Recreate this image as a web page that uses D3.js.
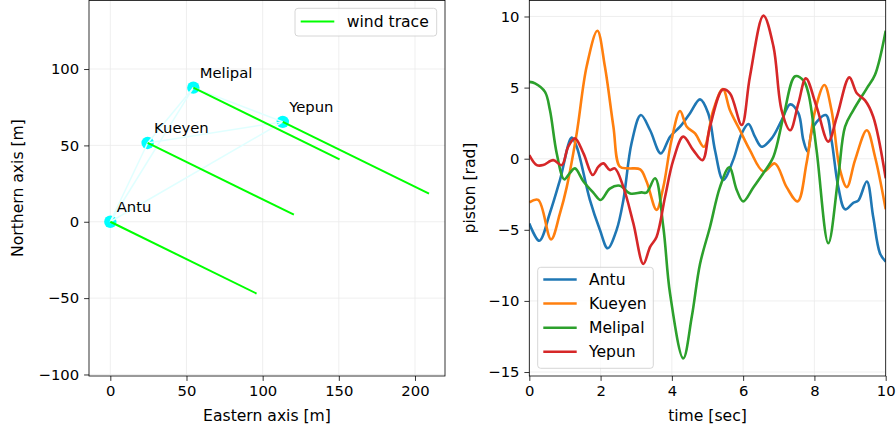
<!DOCTYPE html>
<html>
<head>
<meta charset="utf-8">
<script src="https://cdn.jsdelivr.net/npm/d3@7"></script>
<style>
  body { margin: 0; background: #fff; }
  text { font-family: "DejaVu Sans", sans-serif; fill: #000; }
</style>
</head>
<body>
<div id="chart"></div>
<script>
// telescope names and positions [m]
var telescopes = ["Antu", "Kueyen", "Melipal", "Yepun"];
var eastPos = [0, 24.5, 54.5, 113.2];
var northPos = [0, 51.6, 87.8, 65.4];
// wind trace end offset [m]
var windEast = 96;
var windNorth = -47;

var leftXTicks = [0, 50, 100, 150, 200];
var leftYTicks = [-100, -50, 0, 50, 100];
var rightXTicks = [0, 2, 4, 6, 8, 10];
var rightYTicks = [-15, -10, -5, 0, 5, 10];

// piston traces, [time sec, piston rad]
var antuPiston = [[0,-4.55],[0.28,-5.77],[0.58,-3.8],[0.86,-1.5],[1.19,1.48],[1.33,0.84],[1.7,-2.9],[1.98,-5.0],[2.2,-6.3],[2.45,-5.0],[2.64,-2.9],[2.87,1.1],[3.13,3.07],[3.39,2.0],[3.69,0.37],[3.95,1.55],[4.23,2.25],[4.51,3.2],[4.79,4.17],[5.02,3.2],[5.21,0.6],[5.44,-1.5],[5.72,-0.1],[5.96,1.78],[6.15,2.44],[6.33,1.55],[6.52,0.84],[6.8,1.43],[7.08,2.7],[7.32,3.82],[7.55,3.2],[7.69,1.3],[7.81,0.5],[7.97,2.25],[8.32,3.07],[8.48,1.3],[8.67,-2.0],[8.86,-3.56],[9.09,-3.1],[9.23,-2.95],[9.47,-1.6],[9.65,-4.1],[9.84,-6.66],[10,-7.24]];
var kueyenPiston = [[0,-3.07],[0.25,-2.9],[0.61,-5.67],[0.86,-3.85],[1.05,-2.0],[1.33,1.78],[1.61,6.5],[1.91,9.0],[2.12,6.5],[2.36,2.25],[2.54,-0.56],[2.78,-0.68],[3.11,-0.75],[3.29,-1.6],[3.57,-3.6],[3.76,-2.0],[3.99,1.3],[4.23,3.35],[4.42,2.25],[4.65,1.78],[4.9,0.84],[5.16,3.4],[5.43,4.9],[5.63,3.4],[5.91,2.0],[6.19,0.6],[6.57,-0.9],[6.89,-0.33],[7.22,-2.0],[7.53,-3.0],[7.78,-0.3],[8.02,3.4],[8.28,5.18],[8.48,3.4],[8.72,-0.8],[8.91,-2.0],[9.14,-0.1],[9.47,2.0],[9.7,0.14],[10,-3.56]];
var melipalPiston = [[0,5.4],[0.16,5.3],[0.44,4.7],[0.58,3.4],[0.77,0.37],[0.98,-1.45],[1.14,-1.0],[1.28,-0.68],[1.52,-1.6],[1.8,-2.4],[2.0,-2.9],[2.26,-2.1],[2.54,-1.9],[2.83,-2.45],[3.15,-2.37],[3.29,-2.38],[3.53,-1.38],[3.76,-4.8],[3.95,-9.5],[4.32,-14.04],[4.56,-11.1],[4.79,-7.4],[5.07,-4.8],[5.35,-2.0],[5.61,-0.6],[5.82,-2.2],[6.0,-3.0],[6.29,-2.0],[6.57,-1.0],[6.85,0.14],[7.13,2.95],[7.46,5.8],[7.69,5.5],[7.83,4.6],[8.06,0.6],[8.39,-5.95],[8.67,-1.27],[8.86,2.25],[9.09,3.4],[9.47,4.95],[9.7,5.9],[10,9.0]];
var yepunPiston = [[0,0.26],[0.21,-0.45],[0.39,-0.45],[0.67,-0.1],[0.91,-0.45],[1.09,0.84],[1.28,1.43],[1.52,0.37],[1.78,-1.15],[1.94,-0.56],[2.08,-0.33],[2.26,-0.8],[2.4,-0.68],[2.64,-2.0],[2.92,-4.55],[3.2,-7.4],[3.39,-6.2],[3.57,-5.5],[3.81,-2.67],[4.04,-0.1],[4.32,1.55],[4.6,0.6],[4.86,-0.1],[5.07,2.25],[5.43,4.87],[5.63,4.6],[5.96,2.37],[6.19,5.77],[6.57,10.06],[6.85,7.9],[7.08,3.4],[7.32,2.0],[7.55,3.9],[7.76,5.65],[8.06,3.66],[8.39,1.2],[8.63,2.95],[8.98,5.72],[9.19,4.6],[9.42,4.1],[9.65,2.95],[10,-1.38]];

var pistonSeries = [antuPiston, kueyenPiston, melipalPiston, yepunPiston];
var colors = ["#1f77b4", "#ff7f0e", "#2ca02c", "#d62728"];

var svgWidth = 896;
var svgHeight = 431;
var fontTick = 14.8;
var fontLabel = 15.6;

var svg = d3.select("#chart")
  .append("svg")
  .attr("width", svgWidth)
  .attr("height", svgHeight);

// draws frame, grid, ticks and axis labels for one panel
function drawAxes(g, xScale, yScale, xTicks, yTicks, xLabel, yLabel, yLabelX) {
  var x0 = xScale.range()[0], x1 = xScale.range()[1];
  var y0 = yScale.range()[1], y1 = yScale.range()[0];

  g.selectAll(".gx").data(xTicks).enter().append("line")
    .attr("x1", d => xScale(d)).attr("x2", d => xScale(d))
    .attr("y1", y0).attr("y2", y1)
    .attr("stroke", "#ebebeb").attr("stroke-width", 0.8);
  g.selectAll(".gy").data(yTicks).enter().append("line")
    .attr("x1", x0).attr("x2", x1)
    .attr("y1", d => yScale(d)).attr("y2", d => yScale(d))
    .attr("stroke", "#ebebeb").attr("stroke-width", 0.8);

  var bottomAxis = d3.axisBottom(xScale).tickValues(xTicks)
    .tickSize(4.9).tickPadding(4.9).tickSizeOuter(0);
  var leftAxis = d3.axisLeft(yScale).tickValues(yTicks)
    .tickSize(4.9).tickPadding(4.9).tickSizeOuter(0);

  var bx = g.append("g").attr("transform", `translate(0, ${y1})`).call(bottomAxis);
  var ly = g.append("g").attr("transform", `translate(${x0}, 0)`).call(leftAxis);
  [bx, ly].forEach(function(a) {
    a.select(".domain").remove();
    a.selectAll("line").attr("stroke", "#000").attr("stroke-width", 0.8);
    a.selectAll("text").attr("font-size", fontTick).attr("font-family", "DejaVu Sans").attr("fill", "#000");
  });

  g.append("text")
    .attr("x", (x0 + x1) / 2).attr("y", 421)
    .attr("text-anchor", "middle").attr("font-size", fontLabel)
    .text(xLabel);
  g.append("text")
    .attr("transform", `translate(${yLabelX}, ${(y0 + y1) / 2}) rotate(-90)`)
    .attr("text-anchor", "middle").attr("dominant-baseline", "central")
    .attr("font-size", fontLabel)
    .text(yLabel);
}

function drawFrame(g, xScale, yScale) {
  var x0 = xScale.range()[0], x1 = xScale.range()[1];
  g.append("rect")
    .attr("x", x0).attr("y", yScale.range()[1] + 0.4)
    .attr("width", x1 - x0).attr("height", yScale.range()[0] - yScale.range()[1] - 0.4)
    .attr("fill", "none").attr("stroke", "#000").attr("stroke-width", 0.8);
}

// ---------------- left panel: telescope layout ----------------
var leftX = d3.scaleLinear().domain([-14, 219.7]).range([89, 445]);
var leftY = d3.scaleLinear().domain([-101, 145.2]).range([376, 0]);
var left = svg.append("g");
drawAxes(left, leftX, leftY, leftXTicks, leftYTicks, "Eastern axis [m]", "Northern axis [m]", 17.5);

var scopes = telescopes.map((name, i) => ({ name: name, e: eastPos[i], n: northPos[i] }));

left.selectAll(".scope").data(scopes).enter().append("circle")
  .attr("cx", d => leftX(d.e)).attr("cy", d => leftY(d.n))
  .attr("r", 6.2).attr("fill", "#00ffff");

var pairs = [];
scopes.forEach(function(a, i) {
  scopes.forEach(function(b, j) { if (j > i) pairs.push([a, b]); });
});
left.selectAll(".baseline").data(pairs).enter().append("line")
  .attr("x1", d => leftX(d[0].e)).attr("y1", d => leftY(d[0].n))
  .attr("x2", d => leftX(d[1].e)).attr("y2", d => leftY(d[1].n))
  .attr("stroke", "#e0ffff").attr("stroke-width", 1.5);

left.selectAll(".wind").data(scopes).enter().append("line")
  .attr("x1", d => leftX(d.e)).attr("y1", d => leftY(d.n))
  .attr("x2", d => leftX(d.e + windEast)).attr("y2", d => leftY(d.n + windNorth))
  .attr("stroke", "#00ff00").attr("stroke-width", 2);

left.selectAll(".lbl").data(scopes).enter().append("text")
  .attr("x", d => leftX(d.e + 4.2)).attr("y", d => leftY(d.n + 6.2))
  .attr("font-size", fontTick)
  .text(d => d.name);

drawFrame(left, leftX, leftY);

// legend
left.append("rect")
  .attr("x", 295).attr("y", 8.3).attr("width", 141.7).attr("height", 27.7)
  .attr("rx", 3).attr("fill", "#fff").attr("fill-opacity", 0.8)
  .attr("stroke", "#cccccc").attr("stroke-width", 0.8);
left.append("line")
  .attr("x1", 300.7).attr("x2", 334.3).attr("y1", 21.5).attr("y2", 21.5)
  .attr("stroke", "#00ff00").attr("stroke-width", 2);
left.append("text")
  .attr("x", 346.7).attr("y", 27).attr("font-size", fontLabel)
  .text("wind trace");

// ---------------- right panel: piston vs time ----------------
var rightX = d3.scaleLinear().domain([0, 10]).range([529.3, 885.7]);
var rightY = d3.scaleLinear().domain([-15.28, 11.16]).range([376, 0]);
var right = svg.append("g");
drawAxes(right, rightX, rightY, rightXTicks, rightYTicks, "time [sec]", "piston [rad]", 469.5);

var drawLine = d3.line()
  .x(d => rightX(d[0]))
  .y(d => rightY(d[1]))
  .curve(d3.curveCatmullRom.alpha(0.5));

right.append("clipPath").attr("id", "clipR").append("rect")
  .attr("x", 529.3).attr("y", 0).attr("width", 356.4).attr("height", 376);

right.selectAll(".piston").data(pistonSeries).enter().append("path")
  .attr("d", d => drawLine(d))
  .attr("clip-path", "url(#clipR)")
  .attr("fill", "none")
  .attr("stroke", (d, i) => colors[i])
  .attr("stroke-width", 2.6)
  .attr("stroke-linejoin", "round");

drawFrame(right, rightX, rightY);

// legend
right.append("rect")
  .attr("x", 537.7).attr("y", 267.3).attr("width", 115.6).attr("height", 101)
  .attr("rx", 3).attr("fill", "#fff").attr("fill-opacity", 0.8)
  .attr("stroke", "#cccccc").attr("stroke-width", 0.8);
var rowsY = [279.5, 303.5, 327.7, 351.7];
telescopes.forEach(function(name, i) {
  right.append("line")
    .attr("x1", 543.3).attr("x2", 576.7).attr("y1", rowsY[i]).attr("y2", rowsY[i])
    .attr("stroke", colors[i]).attr("stroke-width", 2.6);
  right.append("text")
    .attr("x", 589).attr("y", rowsY[i] + 5.5).attr("font-size", fontLabel)
    .text(name);
});
</script>
</body>
</html>
